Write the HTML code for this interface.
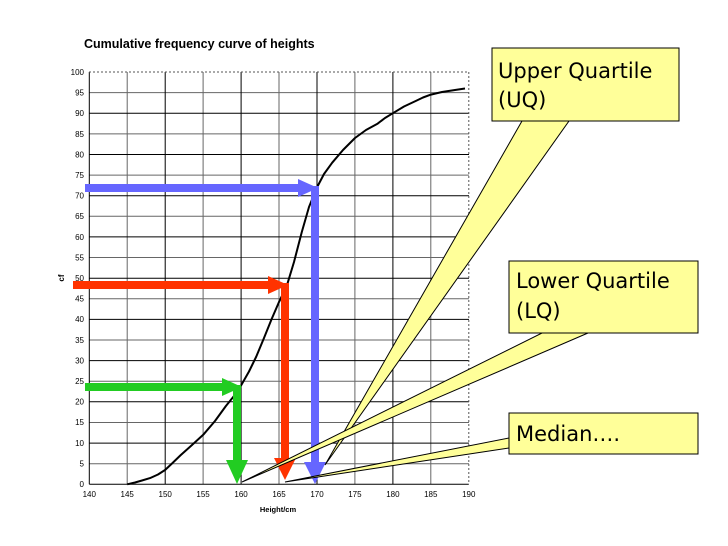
<!DOCTYPE html>
<html><head><meta charset="utf-8"><style>
body{margin:0;background:#fff}
svg{display:block}
.box text{font-family:"DejaVu Sans","Liberation Sans",sans-serif;font-size:21px;fill:#000}
.t{font-family:"Liberation Sans",sans-serif;font-size:8px;fill:#000}
</style></head><body>
<svg width="728" height="546" viewBox="0 0 728 546" xmlns="http://www.w3.org/2000/svg">
<rect width="728" height="546" fill="#fff"/>
<text x="84" y="48" font-family="Liberation Sans,sans-serif" font-weight="bold" font-size="12.5">Cumulative frequency curve of heights</text>
<g stroke="#666" stroke-width="1">
<line x1="127.2" y1="72" x2="127.2" y2="484"/><line x1="203.1" y1="72" x2="203.1" y2="484"/><line x1="279" y1="72" x2="279" y2="484"/><line x1="354.9" y1="72" x2="354.9" y2="484"/><line x1="430.8" y1="72" x2="430.8" y2="484"/>
<line x1="89" y1="463.7" x2="469" y2="463.7"/><line x1="89" y1="422.5" x2="469" y2="422.5"/><line x1="89" y1="381.2" x2="469" y2="381.2"/><line x1="89" y1="340" x2="469" y2="340"/><line x1="89" y1="298.8" x2="469" y2="298.8"/><line x1="89" y1="257.5" x2="469" y2="257.5"/><line x1="89" y1="216.3" x2="469" y2="216.3"/><line x1="89" y1="175.1" x2="469" y2="175.1"/><line x1="89" y1="133.9" x2="469" y2="133.9"/><line x1="89" y1="92.6" x2="469" y2="92.6"/>
</g>
<g stroke="#000" stroke-width="1">
<line x1="165.2" y1="72" x2="165.2" y2="484"/><line x1="241.1" y1="72" x2="241.1" y2="484"/><line x1="317" y1="72" x2="317" y2="484"/><line x1="392.9" y1="72" x2="392.9" y2="484"/>
<line x1="89" y1="443.1" x2="469" y2="443.1"/><line x1="89" y1="401.8" x2="469" y2="401.8"/><line x1="89" y1="360.6" x2="469" y2="360.6"/><line x1="89" y1="319.4" x2="469" y2="319.4"/><line x1="89" y1="278.2" x2="469" y2="278.2"/><line x1="89" y1="236.9" x2="469" y2="236.9"/><line x1="89" y1="195.7" x2="469" y2="195.7"/><line x1="89" y1="154.5" x2="469" y2="154.5"/><line x1="89" y1="113.2" x2="469" y2="113.2"/>
<line x1="89.3" y1="72" x2="89.3" y2="484.3"/><line x1="89.3" y1="484.3" x2="468.8" y2="484.3"/>
</g>
<g stroke="#555" stroke-dasharray="2,2"><line x1="89" y1="72" x2="469" y2="72"/><line x1="468.8" y1="72" x2="468.8" y2="484"/></g>
<g class="t" text-anchor="end">
<text x="84" y="487">0</text><text x="84" y="466.5">5</text><text x="84" y="446">10</text><text x="84" y="425">15</text><text x="84" y="404.5">20</text><text x="84" y="384">25</text><text x="84" y="363.5">30</text><text x="84" y="343">35</text><text x="84" y="322">40</text><text x="84" y="301.5">45</text><text x="84" y="281">50</text><text x="84" y="260.5">55</text><text x="84" y="240">60</text><text x="84" y="219">65</text><text x="84" y="198.5">70</text><text x="84" y="178">75</text><text x="84" y="157.5">80</text><text x="84" y="137">85</text><text x="84" y="116">90</text><text x="84" y="95.5">95</text><text x="84" y="75">100</text>
</g>
<g class="t" text-anchor="middle">
<text x="89.3" y="497">140</text><text x="127.2" y="497">145</text><text x="165.2" y="497">150</text><text x="203.1" y="497">155</text><text x="241.1" y="497">160</text><text x="279" y="497">165</text><text x="317" y="497">170</text><text x="354.9" y="497">175</text><text x="392.9" y="497">180</text><text x="430.8" y="497">185</text><text x="468.8" y="497">190</text>
<text x="278" y="512" font-weight="bold" font-size="7.5">Height/cm</text>
</g>
<text x="0" y="0" class="t" font-weight="bold" transform="translate(64,278) rotate(-90)" text-anchor="middle">cf</text>
<polyline points="127.2,484.3 135,482.5 142,480.5 150,478.1 158,474.5 165.2,469.9 172,463.5 180.4,455.4 192,445 203.2,434.8 215,421 225.9,406 234,396 241.1,385.4 249,371.5 256.3,356.5 264,338 271.5,319.4 279,302 286.6,286.4 294,262 301.8,232 309,207 317,187.4 324,174 332.2,162.7 343,150 355,138 366,130 377.7,123.6 385,118 392.9,113.2 404,106.5 415.7,101 423,97.5 430.9,94.6 442,92 455,90 465,88.5" fill="none" stroke="#000" stroke-width="2" stroke-linejoin="round"/>
<g fill="#6666ff"><rect x="85" y="184" width="215" height="8"/><polygon points="298,179 318,188 298,197"/><rect x="311" y="186" width="8" height="278"/><polygon points="304,462 326,462 315,484"/></g>
<g fill="#ff3300"><rect x="73" y="281" width="197" height="8"/><polygon points="268,276 288,285 268,294"/><rect x="281" y="283" width="8" height="177"/><polygon points="274,458 296,458 285,480"/></g>
<g fill="#22cc22"><rect x="85" y="383" width="140" height="8"/><polygon points="222,378 242,387 222,396"/><rect x="233" y="385" width="8" height="77"/><polygon points="226,460 248,460 237,484"/></g>
<g fill="#ffff99" stroke="#000" stroke-width="1">
<polygon points="522,121 569,121 325,465"/>
<polygon points="542,333 588,333 242,482"/>
<polygon points="509,438 509,448 285,482"/>
</g>
<g class="box" fill="#ffff99" stroke="#000" stroke-width="1">
<rect x="492" y="48" width="187" height="73"/>
<rect x="509" y="261" width="189" height="72"/>
<rect x="509" y="413" width="189" height="41"/>
</g>
<g class="box">
<text x="498" y="78">Upper Quartile</text><text x="498" y="107">(UQ)</text>
<text x="516" y="288">Lower Quartile</text><text x="516" y="318">(LQ)</text>
<text x="516" y="441">Median….</text>
</g>
</svg>
</body></html>
